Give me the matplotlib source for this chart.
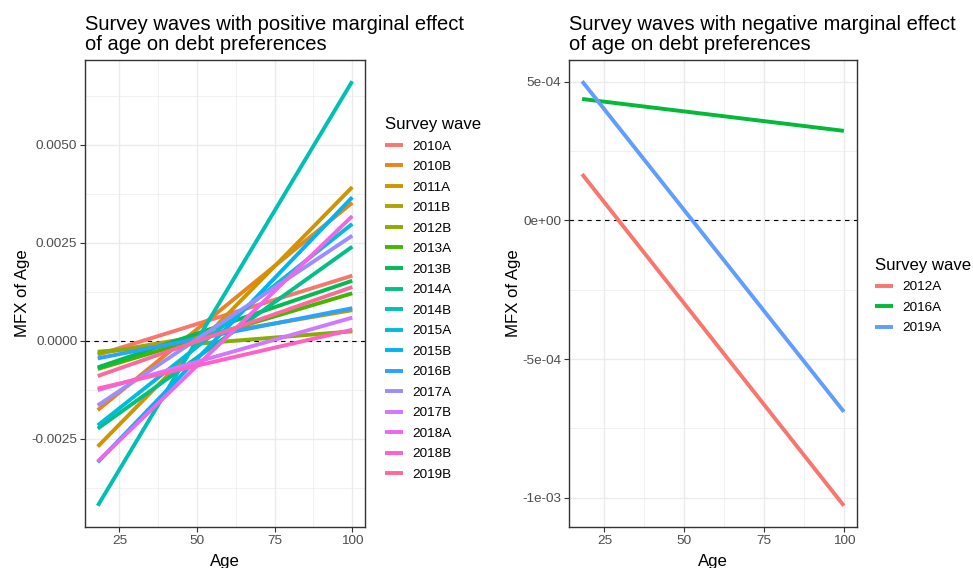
import numpy as np
import matplotlib.pyplot as plt
from matplotlib.ticker import FixedLocator

plt.rcParams['font.family'] = ['Liberation Sans', 'DejaVu Sans']

# marginal effect of age, evaluated at the two ends of the age range
ages = [18, 100]

pos_waves = ["2010A", "2010B", "2011A", "2011B", "2012B", "2013A", "2013B",
             "2014A", "2014B", "2015A", "2015B", "2016B", "2017A", "2017B",
             "2018A", "2018B", "2019B"]
pos_mfx_18 = [-0.00036, -0.00177, -0.00270, -0.00033, -0.00028, -0.00072, -0.00068,
              -0.00224, -0.00421, -0.00216, -0.00310, -0.00045, -0.00165, -0.00126,
              -0.00308, -0.00122, -0.00090]
pos_mfx_100 = [0.00166, 0.00352, 0.00392, 0.00078, 0.00024, 0.00121, 0.00153,
               0.00240, 0.00662, 0.00298, 0.00366, 0.00083, 0.00268, 0.00059,
               0.00318, 0.00028, 0.00137]

neg_waves = ["2012A", "2016A", "2019A"]
neg_mfx_18 = [1.67e-4, 4.38e-4, 5.02e-4]
neg_mfx_100 = [-1.029e-3, 3.23e-4, -6.90e-4]

pos_yticks = [-0.0025, 0.0, 0.0025, 0.0050]
pos_ytick_labels = ["-0.0025", "0.0000", "0.0025", "0.0050"]
neg_yticks = [-1e-3, -5e-4, 0.0, 5e-4]
neg_ytick_labels = ["-1e-03", "-5e-04", "0e+00", "5e-04"]
xticks = [25, 50, 75, 100]


def hue_pal(n, c=100, l=65):
    # same evenly spaced HCL hues that ggplot uses by default
    hues = 15 + 360 * np.arange(n) / n
    Xn, Yn, Zn = 95.047, 100.0, 108.883
    un = 4 * Xn / (Xn + 15 * Yn + 3 * Zn)
    vn = 9 * Yn / (Xn + 15 * Yn + 3 * Zn)
    M = np.array([[3.2404542, -1.5371385, -0.4985314],
                  [-0.9692660, 1.8760108, 0.0415560],
                  [0.0556434, -0.2040259, 1.0572252]])
    out = []
    for h in hues:
        u = c * np.cos(np.deg2rad(h))
        v = c * np.sin(np.deg2rad(h))
        Y = Yn * ((l + 16) / 116) ** 3
        up = u / (13 * l) + un
        vp = v / (13 * l) + vn
        X = Y * 9 * up / (4 * vp)
        Z = Y * (12 - 3 * up - 20 * vp) / (4 * vp)
        rgb = M @ np.array([X, Y, Z]) / 100
        rgb = np.where(rgb <= 0.0031308, 12.92 * rgb, 1.055 * np.abs(rgb) ** (1 / 2.4) - 0.055)
        out.append(tuple(np.clip(rgb, 0, 1)))
    return out


W, H = 973, 568
fig = plt.figure(figsize=(W / 100, H / 100), dpi=100)


def px_axes(x0, y0, x1, y1):
    return fig.add_axes([x0 / W, 1 - y1 / H, (x1 - x0) / W, (y1 - y0) / H])


def style_panel(ax, yticks, ylabels, yminor):
    ax.set_facecolor("white")
    ax.xaxis.set_major_locator(FixedLocator(xticks))
    ax.xaxis.set_minor_locator(FixedLocator([37.5, 62.5, 87.5]))
    ax.yaxis.set_major_locator(FixedLocator(yticks))
    ax.yaxis.set_minor_locator(FixedLocator(yminor))
    ax.set_yticklabels(ylabels)
    ax.grid(True, which="major", color="#EBEBEB", lw=1.0, zorder=0)
    ax.grid(True, which="minor", color="#EBEBEB", lw=0.5, zorder=0)
    ax.set_axisbelow(True)
    ax.tick_params(which="major", length=3.5, width=0.8, color="#333333",
                   labelcolor="#4D4D4D", labelsize=9.7, pad=2)
    ax.tick_params(which="minor", length=0)
    for s in ax.spines.values():
        s.set_color("#333333")
        s.set_linewidth(1.0)
    ax.axhline(0, color="black", lw=0.8, ls=(0, (4, 4)), zorder=1)
    ax.set_xlabel("Age", fontsize=12.1, labelpad=5)
    ax.set_ylabel("MFX of Age", fontsize=12.1, labelpad=1)


def ylim_pad(lo, hi):
    r = hi - lo
    return lo - 0.05 * r, hi + 0.05 * r


# left panel: waves with a positive slope
ax1 = px_axes(85, 60, 365, 527)
pos_cols = hue_pal(len(pos_waves))
for wave, a, b, col in zip(pos_waves, pos_mfx_18, pos_mfx_100, pos_cols):
    ax1.plot(ages, [a, b], color=col, lw=2.8, solid_capstyle="butt", label=wave, zorder=2)
ax1.set_xlim(13.9, 104.1)
ax1.set_ylim(*ylim_pad(min(pos_mfx_18), max(pos_mfx_100)))
style_panel(ax1, pos_yticks, pos_ytick_labels, [-0.00375, -0.00125, 0.00125, 0.00375, 0.00625])
ax1.set_title("Survey waves with positive marginal effect\nof age on debt preferences",
              loc="left", fontsize=14.5, pad=7, linespacing=1.1)

# right panel: waves with a negative slope
ax2 = px_axes(569, 60, 857, 527)
neg_cols = hue_pal(len(neg_waves))
for wave, a, b, col in zip(neg_waves, neg_mfx_18, neg_mfx_100, neg_cols):
    ax2.plot(ages, [a, b], color=col, lw=2.8, solid_capstyle="butt", label=wave, zorder=2)
ax2.set_xlim(13.9, 104.1)
ax2.set_ylim(*ylim_pad(min(neg_mfx_100), max(neg_mfx_18)))
style_panel(ax2, neg_yticks, neg_ytick_labels, [-7.5e-4, -2.5e-4, 2.5e-4])
ax2.set_title("Survey waves with negative marginal effect\nof age on debt preferences",
              loc="left", fontsize=14.5, pad=7, linespacing=1.1)

for ax, x, y in [(ax1, 373 / W, 299 / H), (ax2, 863 / W, 296 / H)]:
    h, l = ax.get_legend_handles_labels()
    leg = fig.legend(h, l, title="Survey wave", loc="center left",
                     bbox_to_anchor=(x, 1 - y), frameon=False,
                     fontsize=9.7, title_fontsize=12.1, handlelength=1.3,
                     handletextpad=0.7, labelspacing=0.6, alignment="left")

fig.savefig("out.png", dpi=100)
